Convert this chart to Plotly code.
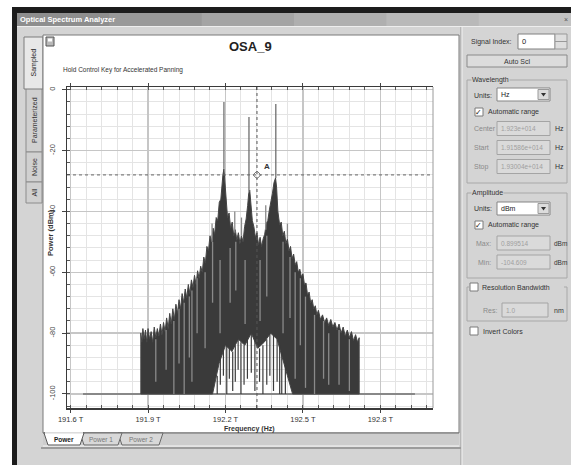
import plotly.graph_objects as go

# ---------------- data ----------------
x_tick_vals = [191.6, 191.9, 192.2, 192.5, 192.8]
x_tick_text = ["191.6 T", "191.9 T", "192.2 T", "192.5 T", "192.8 T"]
y_tick_vals = [0, -20, -40, -60, -80, -100]
y_tick_text = ["0", "-20", "-40", "-60", "-80", "-100"]
freq_start, freq_stop = 191.586, 193.004      # THz (Start / Stop fields)
amp_max, amp_min = 0.899514, -104.609         # dBm (Max / Min fields)

floor_freq = [191.648, 192.934]
floor_db = [-100, -100]

upper_freq = [191.872, 191.872, 191.876, 191.880, 191.885, 191.890, 191.895, 191.900, 191.906,
              191.912, 191.918, 191.924, 191.930, 191.936, 191.942, 191.948, 191.954, 191.960,
              191.966, 191.972, 191.978, 191.984, 191.990, 191.996, 192.002, 192.008, 192.014,
              192.020, 192.026, 192.032, 192.038, 192.044, 192.050, 192.056, 192.062, 192.068,
              192.074, 192.080, 192.086, 192.092, 192.098, 192.104, 192.110, 192.116, 192.122,
              192.128, 192.134, 192.140, 192.146, 192.152, 192.158, 192.164, 192.170, 192.176,
              192.182, 192.186, 192.190, 192.194, 192.198, 192.202, 192.208, 192.214, 192.220,
              192.226, 192.232, 192.238, 192.244, 192.250, 192.256, 192.262, 192.268, 192.274,
              192.280, 192.286, 192.290, 192.294, 192.298, 192.304, 192.310, 192.316, 192.322,
              192.328, 192.334, 192.340, 192.346, 192.352, 192.358, 192.364, 192.370, 192.376,
              192.382, 192.388, 192.394, 192.398, 192.403, 192.410, 192.416, 192.422, 192.428,
              192.434, 192.440, 192.446, 192.452, 192.458, 192.464, 192.470, 192.476, 192.482,
              192.488, 192.494, 192.500, 192.506, 192.512, 192.518, 192.524, 192.530, 192.536,
              192.542, 192.548, 192.554, 192.560, 192.568, 192.576, 192.584, 192.592, 192.600,
              192.608, 192.616, 192.624, 192.632, 192.640, 192.648, 192.656, 192.664, 192.672,
              192.680, 192.688, 192.696, 192.704, 192.712, 192.718, 192.718]
upper_db = [-100, -80, -83, -78.5, -82, -79, -83, -78.5, -82,
            -79.5, -83, -78, -81.5, -78.5, -81, -77, -80.5, -76.5,
            -79.5, -75, -78.5, -73.5, -77, -72, -75.5, -70.5, -73.5,
            -69, -72, -67, -70, -65.5, -68.5, -64, -67, -62.5,
            -65, -61, -64, -59.5, -62, -58, -60, -55, -57,
            -51.5, -53, -48, -50, -45.5, -47.5, -42, -43, -37,
            -36, -31, -28, -26, -31, -37, -42, -40.5, -45.5,
            -43.5, -48, -46, -49.5, -47, -50.5, -48, -50, -45,
            -42.5, -38, -34, -33, -37, -43, -45, -48.5, -47,
            -51, -48.5, -51.5, -49, -47.5, -44, -43, -39.5, -37,
            -34, -30.5, -29, -32, -40, -44.5, -43.5, -48, -46.5,
            -50.5, -49, -53, -51.5, -55.5, -54, -57.5, -56.5, -60,
            -59, -61.5, -60.5, -64, -63.5, -67.5, -66.5, -70, -69,
            -72, -71, -74, -72.5, -75.5, -74, -76.5, -75, -77.5,
            -75.5, -78, -76.5, -79, -77, -80, -78, -81, -79,
            -81.5, -79.5, -82.5, -80.5, -83, -81.5, -100]

lower_freq = [191.872, 192.150, 192.175, 192.200, 192.225, 192.250, 192.275, 192.300,
              192.325, 192.350, 192.375, 192.400, 192.420, 192.440, 192.460, 192.718]
lower_db = [-100, -100, -90, -84, -86, -82, -84, -80, -85, -83, -80, -82, -88, -94, -100, -100]

spike_freq = [192.194, 192.291, 192.395]
spike_base_db = [-26, -33.5, -29]
spike_top_db = [-4.0, -9.0, -4.7]

dip_freq = [192.168, 192.180, 192.192, 192.205, 192.215, 192.228, 192.238, 192.249,
            192.260, 192.272, 192.285, 192.300, 192.314, 192.332, 192.345, 192.360,
            192.372, 192.386, 192.400, 192.410, 192.418, 192.432]
dip_high_db = [-94, -88, -84, -84, -85, -86, -84, -82, -83, -84, -82, -80, -82, -85, -84,
               -82, -80, -80, -82, -84, -86, -90]
dip_low_db = [-100, -97, -94, -100, -95, -99, -96, -92, -100, -97, -95, -93, -99, -96, -100,
              -97, -94, -99, -96, -100, -100, -100]

streak_freq = [191.930, 191.970, 192.000, 192.020, 192.040, 192.060, 192.070, 192.090,
               192.121, 192.148, 192.150, 192.179, 192.218, 192.236, 192.240, 192.262,
               192.276, 192.334, 192.356, 192.360, 192.423, 192.440, 192.450, 192.470,
               192.490, 192.510, 192.545, 192.580, 192.600, 192.640, 192.680]
streak_high_db = [-82, -79, -76, -72, -70, -68, -66, -62, -60, -44, -50, -56, -52, -40, -50,
                  -42, -56, -56, -38, -48, -50, -44, -55, -60, -62, -68, -74, -76, -80, -79,
                  -82]
streak_low_db = [-96, -92, -100, -90, -100, -88, -96, -80, -85, -50, -70, -80, -70, -47, -66,
                 -48, -77, -76, -46, -68, -80, -49, -75, -95, -84, -98, -100, -95, -97, -97,
                 -99]

cursor_freq = 192.322
cursor_db = -28.0

# ---------------- geometry helpers (screen pixels -> paper) ----------------
W, H = 571, 465
L, R, T, B = 67, 433, 87, 408   # plot area in pixels
FONT = "Liberation Sans, Arial, sans-serif"
PANEL = "#d4d4d4"


def xp(px):
    return (px - L) / (R - L)


def yp(py):
    return (B - py) / (B - T)


shapes = []
annotations = []


def rect(x0, y0, x1, y1, fill="rgba(0,0,0,0)", line=None, lw=1):
    shapes.append(dict(type="rect", xref="paper", yref="paper", layer="below",
                       x0=xp(x0), x1=xp(x1), y0=yp(y1), y1=yp(y0),
                       fillcolor=fill,
                       line=dict(color=line if line else "rgba(0,0,0,0)", width=lw if line else 0)))


def seg(x0, y0, x1, y1, color, w=1, layer="below"):
    shapes.append(dict(type="line", xref="paper", yref="paper", layer=layer,
                       x0=xp(x0), x1=xp(x1), y0=yp(y0), y1=yp(y1),
                       line=dict(color=color, width=w)))


def poly(points, fill, line=None, lw=1):
    d = "M " + " L ".join(f"{xp(x):.5f},{yp(y):.5f}" for x, y in points) + " Z"
    shapes.append(dict(type="path", xref="paper", yref="paper", layer="below", path=d,
                       fillcolor=fill,
                       line=dict(color=line if line else "rgba(0,0,0,0)", width=lw if line else 0)))


def text(x, y, s, size=7, color="#222", anchor="left", angle=0, bold=False, bg=None):
    a = dict(xref="paper", yref="paper", x=xp(x), y=yp(y), text=f"<b>{s}</b>" if bold else s,
             showarrow=False, xanchor=anchor, yanchor="middle", textangle=angle,
             font=dict(family=FONT, size=size, color=color), borderpad=0)
    if bg:
        a["bgcolor"] = bg
    annotations.append(a)


# ---------------- window chrome ----------------
rect(0, 0, W, 7, "white")
rect(0, 0, 12, H, "white")
rect(12, 7, W, 13, "#1c1c1c")
rect(12, 7, 17, H, "#1c1c1c")
bar_cols = ["#8e8e8e", "#999999", "#a4a4a4", "#afafaf", "#b9b9b9", "#c2c2c2"]
step = (W - 17) / len(bar_cols)
for i, c in enumerate(bar_cols):
    rect(17 + i * step, 13, 17 + (i + 1) * step + 1, 26, c)
seg(17, 26.5, W, 26.5, "#eeeeee", 1)
text(19, 19.5, "Optical Spectrum Analyzer", size=7.5, color="white", bold=True)
text(566, 19.5, "×", size=7, color="#555", anchor="center")

# left vertical tabs
rect(26, 88, 42, 152, "#d0d0d0", "#8c8c8c")
rect(26, 152, 42, 182, "#d0d0d0", "#8c8c8c")
rect(26, 182, 42, 203, "#d0d0d0", "#8c8c8c")
rect(24, 37, 43, 89, "#e8e8e8", "#7c7c7c")
text(33.5, 63, "Sampled", size=7, angle=-90, anchor="center", color="#222")
text(34, 120, "Parameterized", size=7, angle=-90, anchor="center", color="#333")
text(34, 167, "Noise", size=7, angle=-90, anchor="center", color="#333")
text(34, 192.5, "All", size=7, angle=-90, anchor="center", color="#333")

# chart panel
rect(43, 35, 459, 433, "white", "#7a7a7a")
rect(43, 433, 459, 446, "#cdcdcd")
seg(43, 446, 459, 446, "#f4f4f4", 1)
seg(41, 448, 461, 448, "#8a8a8a", 1.5)
seg(43, 433, 459, 433, "#6a6a6a", 1)
# bottom sheet tabs (back to front)
poly([(118, 433), (163, 433), (159, 445), (122, 445)], "#d8d8d8", "#6a6a6a")
poly([(80, 433), (122, 433), (118, 445), (84, 445)], "#d8d8d8", "#6a6a6a")
poly([(44, 433), (84, 433), (80, 445), (48, 445)], "white", "#5a5a5a")
seg(45, 433, 83, 433, "white", 1.5)
text(64, 439.5, "Power", size=6.5, anchor="center", color="#222", bold=True)
text(101, 439.5, "Power 1", size=6.5, anchor="center", color="#777")
text(140.5, 439.5, "Power 2", size=6.5, anchor="center", color="#777")

# icon + titles
rect(46, 37, 54, 46, "#b8b8b8", "#555555")
rect(48, 38.5, 52, 41.5, "white")
text(250, 47, "OSA_9", size=13, anchor="center", color="#222", bold=True)
text(62, 70, "Hold Control Key for Accelerated Panning", size=6.5, color="#333")
text(50, 233, "Power (dBm)", size=7.5, angle=-90, anchor="center", color="#333", bold=True)
text(249, 428.5, "Frequency (Hz)", size=7, anchor="center", color="#333", bold=True)

# right border of plot (light)
seg(R, T, R, B, "#9a9a9a", 1, layer="above")

# right control panel
seg(461, 27, 461, H, "#9a9a9a", 1)
seg(462, 27, 462, H, "#f2f2f2", 1)
text(470, 42, "Signal Index:", size=7, color="#333")
rect(518, 34, 555, 49, "white", "#808080")
text(521, 41.5, "0", size=7.5, color="#222")
rect(555, 34, 567, 41.5, "#dedede", "#999999")
rect(555, 41.5, 567, 49, "#dedede", "#999999")
rect(467, 55, 567, 67, "#dcdcdc", "#8a8a8a")
text(517, 61, "Auto Scl", size=7, anchor="center", color="#333")


def dropdown(y0, label):
    rect(497, y0, 550, y0 + 13, "white", "#858585")
    text(499.5, y0 + 6.5, label, size=7, color="#222")
    rect(538, y0 + 1.5, 549, y0 + 11.5, "#dcdcdc", "#9a9a9a")
    poly([(541, y0 + 5), (546, y0 + 5), (543.5, y0 + 8.5)], "#333333")


def checkbox(x0, yc, checked):
    rect(x0, yc - 4, x0 + 8, yc + 4, "white", "#7a7a7a")
    if checked:
        text(x0 + 4, yc, "✓", size=8, anchor="center", color="#222")


def field(y0, value, x0=497, x1=550):
    rect(x0, y0, x1, y0 + 14, "#dadada", "#a4a4a4")
    text(x0 + 2.5, y0 + 7, value, size=6.5, color="#a0a0a0")


# Wavelength group
rect(467, 80, 567, 183, line="#a8a8a8")
text(471, 80, "Wavelength", size=7, color="#333", bg=PANEL)
text(473, 95, "Units:", size=7, color="#333")
dropdown(88, "Hz")
checkbox(475, 112, True)
text(487, 112, "Automatic range", size=7, color="#333")
text(473, 128.5, "Center", size=7, color="#8a8a8a")
field(121.5, "1.923e+014")
text(554, 128.5, "Hz", size=7, color="#333")
text(473, 147.5, "Start", size=7, color="#8a8a8a")
field(140.5, "1.91586e+014")
text(554, 147.5, "Hz", size=7, color="#333")
text(473, 166.5, "Stop", size=7, color="#8a8a8a")
field(159.5, "1.93004e+014")
text(554, 166.5, "Hz", size=7, color="#333")

# Amplitude group
rect(467, 193, 567, 278, line="#a8a8a8")
text(471, 193, "Amplitude", size=7, color="#333", bg=PANEL)
text(473, 208.5, "Units:", size=7, color="#333")
dropdown(202, "dBm")
checkbox(475, 225, True)
text(487, 225, "Automatic range", size=7, color="#333")
text(475, 243, "Max:", size=7, color="#8a8a8a")
field(236, "0.899514")
text(553, 243, "dBm", size=6.5, color="#333")
text(477, 262, "Min:", size=7, color="#8a8a8a")
field(255, "-104.609")
text(553, 262, "dBm", size=6.5, color="#333")

# Resolution bandwidth group
rect(467, 287, 567, 321, line="#a8a8a8")
rect(469, 282, 564, 292, PANEL)
checkbox(470, 287, False)
text(481, 287, "Resolution Bandwidth", size=7, color="#333")
text(482, 310, "Res:", size=7, color="#8a8a8a")
field(303, "1.0", x0=502, x1=548)
text(553, 310, "nm", size=7, color="#333")
checkbox(470, 331, False)
text(482, 331, "Invert Colors", size=7, color="#333")

# ---------------- traces ----------------
fig = go.Figure()

fig.add_trace(go.Scatter(x=floor_freq, y=floor_db, mode="lines",
                         line=dict(color="#4a4a4a", width=1.2), hoverinfo="skip"))

poly_x = upper_freq + lower_freq[::-1]
poly_y = upper_db + lower_db[::-1]
fig.add_trace(go.Scatter(x=poly_x, y=poly_y, mode="lines", fill="toself",
                         fillcolor="#3a3a3a", line=dict(color="#454545", width=1),
                         hoverinfo="skip"))


def segments(xs, lo, hi):
    sx, sy = [], []
    for f, a, b in zip(xs, lo, hi):
        sx += [f, f, None]
        sy += [a, b, None]
    return sx, sy


sx, sy = segments(streak_freq, streak_low_db, streak_high_db)
fig.add_trace(go.Scatter(x=sx, y=sy, mode="lines", line=dict(color="#8a8a8a", width=1.3),
                         hoverinfo="skip"))
sx, sy = segments(dip_freq, dip_low_db, dip_high_db)
fig.add_trace(go.Scatter(x=sx, y=sy, mode="lines", line=dict(color="#3a3a3a", width=1.2),
                         hoverinfo="skip"))
sx, sy = segments(spike_freq, spike_base_db, spike_top_db)
fig.add_trace(go.Scatter(x=sx, y=sy, mode="lines", line=dict(color="#6f6f6f", width=1.3),
                         hoverinfo="skip"))

# cursor A
fig.add_trace(go.Scatter(x=[cursor_freq, cursor_freq], y=[amp_min, amp_max], mode="lines",
                         line=dict(color="#555555", width=1, dash="dot"), hoverinfo="skip"))
fig.add_trace(go.Scatter(x=[freq_start, freq_stop], y=[cursor_db, cursor_db], mode="lines",
                         line=dict(color="#666666", width=1, dash="dot"), hoverinfo="skip"))
fig.add_trace(go.Scatter(x=[cursor_freq], y=[cursor_db], mode="markers",
                         marker=dict(symbol="diamond-open", size=6, color="#777777",
                                     line=dict(width=1)), hoverinfo="skip"))
annotations.append(dict(xref="x", yref="y", x=cursor_freq, y=cursor_db, text="<b>A</b>",
                        showarrow=False, xshift=10, yshift=8,
                        font=dict(family=FONT, size=8, color="#333")))

fig.update_layout(
    width=W, height=H,
    margin=dict(l=L, r=W - R, t=T, b=H - B, pad=0),
    paper_bgcolor=PANEL, plot_bgcolor="white",
    showlegend=False,
    font=dict(family=FONT, size=7.5, color="#333"),
    shapes=shapes, annotations=annotations,
    xaxis=dict(range=[freq_start, freq_stop], tickmode="array", tickvals=x_tick_vals,
               ticktext=x_tick_text, ticks="outside", ticklen=3, tickcolor="#444",
               showline=True, linecolor="#3a3a3a", linewidth=1.5, mirror="ticks",
               showgrid=True, gridcolor="#c6c6c6", gridwidth=1.5, zeroline=False,
               tickfont=dict(size=7.5, color="#333", family=FONT), automargin=False,
               minor=dict(tickmode="linear", tick0=191.6, dtick=0.06, showgrid=True,
                          gridcolor="#e4e4e4", gridwidth=1, ticks="inside", ticklen=3,
                          tickcolor="#555")),
    yaxis=dict(range=[amp_min, amp_max], tickmode="array", tickvals=y_tick_vals,
               ticktext=y_tick_text, tickangle=-90, ticks="outside", ticklen=4,
               ticklabelstandoff=4,
               tickcolor="#444", showline=True, linecolor="#3a3a3a", linewidth=1.5,
               mirror=False, showgrid=True, gridcolor="#c6c6c6", gridwidth=1.5,
               zeroline=False, tickfont=dict(size=7.5, color="#444", family=FONT),
               automargin=False,
               minor=dict(tickmode="linear", tick0=0, dtick=4, showgrid=True,
                          gridcolor="#e4e4e4", gridwidth=1, ticks="inside", ticklen=3,
                          tickcolor="#555")),
)

fig.write_html("out.html",
               config={"displayModeBar": False, "staticPlot": True},
               post_script="document.body.style.margin='0';"
                           "document.documentElement.style.overflow='hidden';"
                           "document.body.style.overflow='hidden';")
